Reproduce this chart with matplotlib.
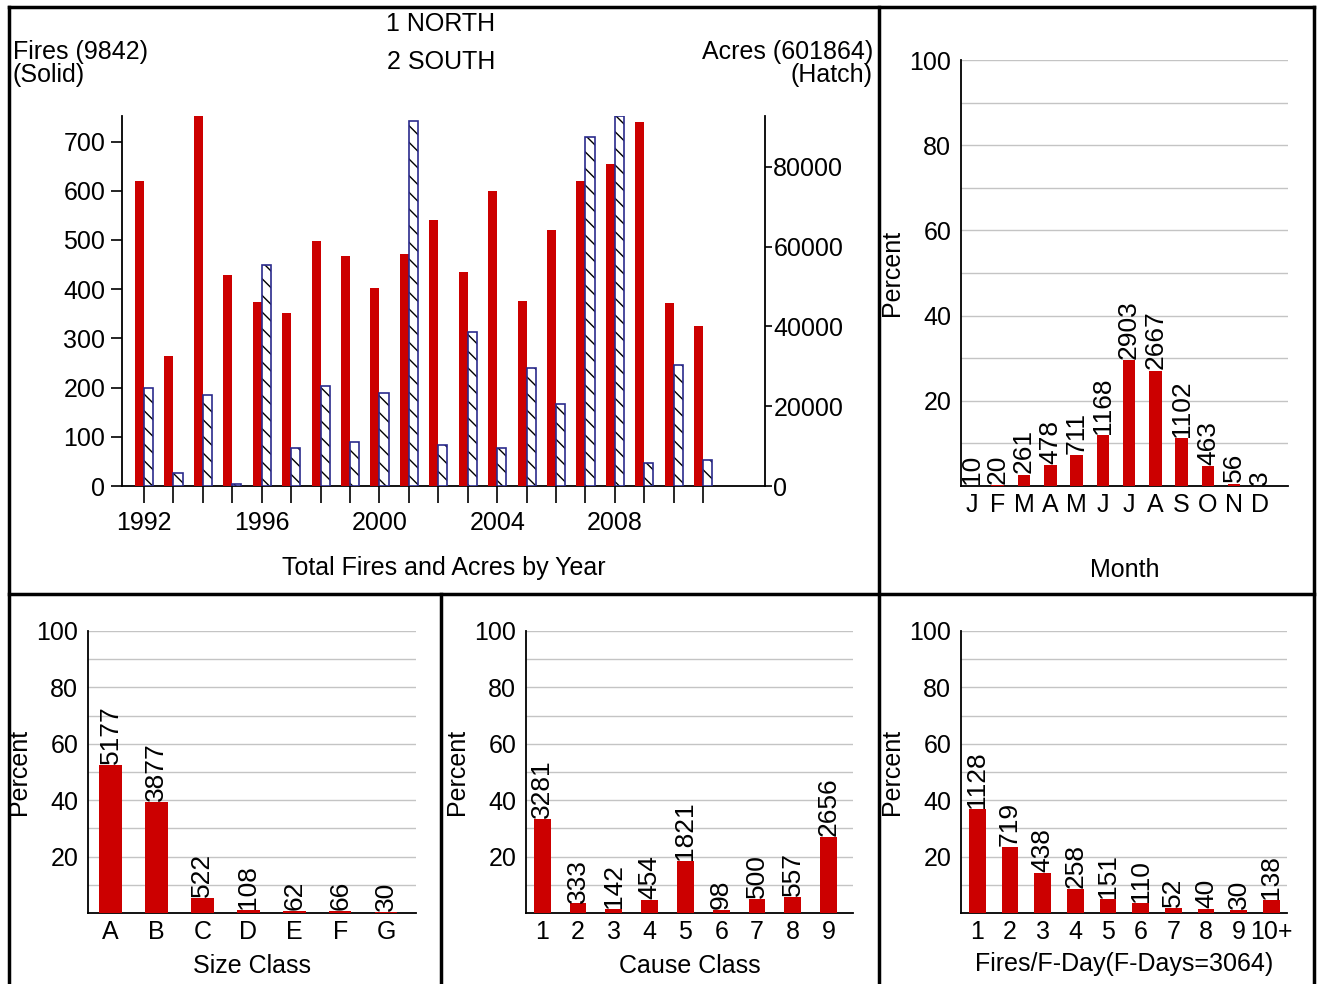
import matplotlib.pyplot as plt
from matplotlib import font_manager
from matplotlib.lines import Line2D
import numpy as np

# --- data ---
years = list(range(1992, 2012))
fires = [620, 264, 752, 428, 374, 352, 498, 467, 403, 471,
         541, 434, 600, 375, 520, 620, 654, 740, 371, 325]
acres = [24500, 3200, 22900, 400, 55300, 9400, 25000, 11000, 23300, 91500,
         10200, 38500, 9400, 29500, 20500, 87400, 92700, 5700, 30300, 6500]
year_labels = [1992, 1996, 2000, 2004, 2008]

months = ['J', 'F', 'M', 'A', 'M', 'J', 'J', 'A', 'S', 'O', 'N', 'D']
month_counts = [10, 20, 261, 478, 711, 1168, 2903, 2667, 1102, 463, 56, 3]

size_classes = ['A', 'B', 'C', 'D', 'E', 'F', 'G']
size_counts = [5177, 3877, 522, 108, 62, 66, 30]

cause_classes = ['1', '2', '3', '4', '5', '6', '7', '8', '9']
cause_counts = [3281, 333, 142, 454, 1821, 98, 500, 557, 2656]

fday_classes = ['1', '2', '3', '4', '5', '6', '7', '8', '9', '10+']
fday_counts = [1128, 719, 438, 258, 151, 110, 52, 40, 30, 138]

RED = '#cc0000'

avail = {f.name for f in font_manager.fontManager.ttflist}
if 'Liberation Sans Narrow' in avail:
    plt.rcParams['font.family'] = ['Liberation Sans Narrow', 'DejaVu Sans']
    FS, LFS = 20, 21
else:
    plt.rcParams['font.family'] = ['Liberation Sans', 'DejaVu Sans']
    FS, LFS = 18, 19

W, H = 1322, 984
fig = plt.figure(figsize=(W / 100, H / 100), dpi=100)


def rect(x0, y0, x1, y1):
    # pixel box (top-left origin) -> figure fraction rect
    return [x0 / W, 1 - y1 / H, (x1 - x0) / W, (y1 - y0) / H]


def percent_panel(box, labels, counts, xlim, width, xlabel, xlab_y):
    ax = fig.add_axes(rect(*box))
    counts = np.array(counts)
    pct = counts / counts.sum() * 100
    x = np.arange(len(labels))
    ax.bar(x, pct, width=width, color=RED, zorder=3)
    for xi, p, c in zip(x, pct, counts):
        ax.text(xi, p + 0.3, str(c), rotation=90, ha='center', va='bottom',
                fontsize=LFS, zorder=4)
    ax.set_xlim(*xlim)
    ax.set_ylim(0, 100)
    ax.set_yticks(range(10, 101, 10))
    ax.set_yticklabels(['' if v % 20 else str(v) for v in range(10, 101, 10)])
    ax.grid(axis='y', color='#c4c4c4', lw=1, zorder=0)
    ax.set_xticks(x)
    ax.set_xticklabels(labels)
    ax.tick_params(axis='both', length=0, labelsize=FS)
    ax.tick_params(axis='y', pad=7)
    ax.tick_params(axis='x', pad=5)
    for s in ['top', 'right']:
        ax.spines[s].set_visible(False)
    ax.spines['left'].set_linewidth(1.3)
    ax.spines['bottom'].set_linewidth(1.3)
    ax.set_ylabel('Percent', fontsize=FS)
    ax.yaxis.set_label_coords(-0.175, 0.5)
    ax.set_xlabel(xlabel, fontsize=FS)
    ax.xaxis.set_label_coords(0.5, xlab_y)
    return ax


# --- top-left: fires and acres by year ---
ax1 = fig.add_axes(rect(122, 116, 765, 486))
yrs = np.array(years)
ax1.bar(yrs, fires, width=-0.31, align='edge', color=RED, zorder=3)
ax1.set_xlim(1991.25, 2013.1)
ax1.set_ylim(0, max(fires))
ax1.set_yticks(range(0, 701, 100))
ax1.set_xticks(years, minor=True)
ax1.set_xticks(year_labels)
ax1.tick_params(axis='x', which='both', length=12, width=1.2, direction='out',
                labelsize=FS, pad=6)
ax1.tick_params(axis='y', length=8, width=1.2, labelsize=FS, pad=4)
ax1.spines['top'].set_visible(False)
ax1.spines['right'].set_visible(False)
ax1.spines['left'].set_linewidth(1.3)
ax1.spines['bottom'].set_linewidth(1.3)
ax1.set_xlabel('Total Fires and Acres by Year', fontsize=FS)
ax1.xaxis.set_label_coords(0.5, -0.19)

ax2 = ax1.twinx()
ax2.bar(yrs, acres, width=0.31, align='edge', color='white', edgecolor='black',
        hatch='\\\\', linewidth=0, zorder=3)
ax2.bar(yrs, acres, width=0.31, align='edge', fill=False, edgecolor='#2b2b8c',
        linewidth=1.2, zorder=4)
ax2.set_ylim(0, max(acres))
ax2.set_yticks(range(0, 80001, 20000))
ax2.tick_params(axis='y', length=5, width=1.2, labelsize=FS, pad=1)
ax2.spines['top'].set_visible(False)
ax2.spines['left'].set_visible(False)
ax2.spines['bottom'].set_visible(False)
ax2.spines['right'].set_linewidth(1.3)

fig.text(441 / W, 1 - 24 / H, '1 NORTH', ha='center', va='center', fontsize=FS)
fig.text(441 / W, 1 - 62 / H, '2 SOUTH', ha='center', va='center', fontsize=FS)
fig.text(13 / W, 1 - 40 / H, 'Fires (9842)\n(Solid)', ha='left', va='top',
         fontsize=FS, linespacing=0.95)
fig.text(873 / W, 1 - 40 / H, 'Acres (601864)\n(Hatch)', ha='right', va='top',
         fontsize=FS, linespacing=0.95, multialignment='right')

# --- percent panels ---
percent_panel((961, 60, 1288, 486), months, month_counts, (-0.4, 12.05), 0.48,
              'Month', -0.17)
percent_panel((88, 631, 416, 913), size_classes, size_counts, (-0.49, 6.65), 0.49,
              'Size Class', -0.145)
percent_panel((526, 631, 853, 913), cause_classes, cause_counts, (-0.45, 8.68), 0.47,
              'Cause Class', -0.145)
percent_panel((961, 631, 1287, 913), fday_classes, fday_counts, (-0.5, 9.48), 0.51,
              'Fires/F-Day(F-Days=3064)', -0.14)

# --- panel borders ---
def pline(x0, y0, x1, y1):
    fig.add_artist(Line2D([x0 / W, x1 / W], [1 - y0 / H, 1 - y1 / H],
                          transform=fig.transFigure, color='black', lw=2.5))

pline(9, 7, 1314, 7)
pline(9, 594, 1314, 594)
pline(9, 7, 9, 984)
pline(1314, 7, 1314, 984)
pline(879, 7, 879, 984)
pline(441, 594, 441, 984)

fig.savefig('out.png', dpi=100)
